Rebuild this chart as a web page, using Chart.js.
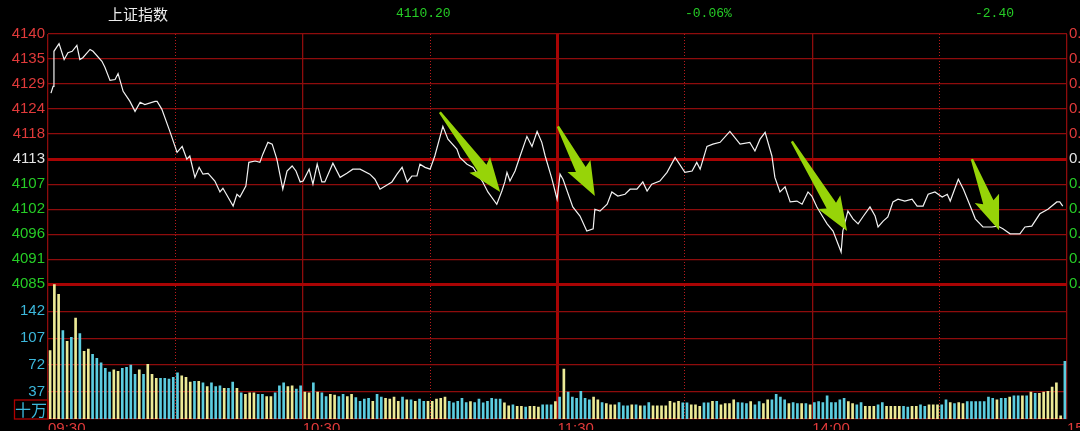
<!DOCTYPE html>
<html>
<head>
<meta charset="utf-8">
<script src="https://cdn.jsdelivr.net/npm/chart.js@4.4.1/dist/chart.umd.min.js"></script>
<style>
  html, body { margin: 0; padding: 0; background: #000; }
  canvas { display: block; }
</style>
</head>
<body>
<canvas id="chart" width="1080" height="431"></canvas>
<script>
// intraday chart: price line on top, per-minute volume bars below

const PREV_CLOSE = 4112.6;

// price line (minutes after 09:30, index value)
const priceTimes = [
  0.7, 1.2, 1.4, 2.6, 3.8, 4.7, 5.7, 6.8, 7.5, 8.2,
  9.9, 10.6, 12.7, 13.4, 14.6, 15.8, 16.5, 17.7, 19.3, 20.5,
  21.7, 22.8, 25.2, 25.7, 26.8, 28.7, 30.4, 31.6, 32.7, 33.4,
  34.6, 35.6, 36.5, 37.7, 39.3, 40.5, 41.2, 43.6, 44.5, 45.2,
  46.6, 47.3, 48.8, 49.9, 50.6, 51.8, 52.8, 53.9, 55.3, 56.3,
  57.5, 58.4, 59.4, 60.1, 61.5, 62.4, 63.4, 64.5, 65.2, 67.1,
  68.8, 70.4, 71.8, 73.5, 75.8, 77.0, 78.2, 81.0, 82.2, 83.4,
  84.6, 85.7, 86.9, 87.6, 88.8, 90.0, 91.1, 93.0, 94.2, 96.3,
  97.0, 98.7, 100.1, 102.4, 103.6, 105.7, 106.9, 107.6, 108.1, 108.8,
  110.0, 111.2, 112.8, 114.0, 115.2, 116.3, 117.1, 118.7, 119.9, 120.6,
  121.3, 123.6, 125.3, 126.9, 128.4, 128.8, 130.0, 131.7, 132.8, 134.2,
  135.9, 137.1, 138.7, 140.1, 141.1, 142.2, 144.1, 145.8, 147.7, 150.0,
  151.7, 152.8, 153.6, 155.2, 156.6, 158.3, 160.6, 163.0, 165.3, 166.5,
  167.7, 168.9, 170.5, 171.2, 172.4, 173.6, 174.8, 176.4, 177.6, 179.0,
  179.9, 181.1, 182.5, 183.5, 184.9, 186.8, 187.2, 188.4, 189.6, 190.8,
  191.9, 193.6, 194.8, 195.5, 196.7, 197.8, 199.0, 200.2, 201.8, 203.5,
  204.7, 206.1, 207.3, 208.9, 210.6, 211.8, 212.5, 214.4, 215.6, 217.3,
  218.4, 220.2, 222.3, 223.7, 224.9, 226.6, 228.9, 230.1, 231.7, 233.6,
  235.5, 237.6, 238.3, 239.0
];
const prices = [
  4127.1, 4128.6, 4136.3, 4138.0, 4134.5, 4136.0, 4136.3, 4137.6, 4134.5, 4134.9,
  4136.7, 4136.3, 4134.1, 4132.8, 4129.9, 4130.1, 4131.4, 4127.5, 4125.3, 4123.1,
  4125.1, 4124.6, 4125.3, 4125.3, 4123.6, 4118.7, 4114.1, 4115.4, 4112.6, 4113.3,
  4108.6, 4110.8, 4109.3, 4109.5, 4107.8, 4105.4, 4106.2, 4102.3, 4104.9, 4104.3,
  4106.7, 4111.9, 4112.2, 4111.9, 4113.7, 4116.3, 4115.9, 4112.6, 4106.0, 4110.0,
  4111.1, 4110.0, 4107.6, 4107.8, 4110.4, 4107.1, 4111.5, 4107.6, 4107.6, 4111.7,
  4108.6, 4109.5, 4110.4, 4110.4, 4109.3, 4108.2, 4106.0, 4107.6, 4109.3, 4110.8,
  4107.6, 4108.9, 4108.9, 4111.5, 4110.8, 4110.4, 4113.3, 4119.8, 4117.0, 4114.8,
  4113.0, 4111.5, 4110.8, 4107.6, 4105.4, 4102.7, 4105.6, 4107.6, 4109.7, 4107.8,
  4110.0, 4113.3, 4117.6, 4115.4, 4118.7, 4116.3, 4113.3, 4108.2, 4103.8, 4109.3,
  4108.2, 4102.1, 4100.1, 4096.8, 4097.3, 4101.6, 4101.2, 4102.7, 4105.4, 4104.5,
  4104.9, 4106.0, 4106.0, 4107.6, 4105.6, 4107.1, 4107.8, 4109.7, 4113.0, 4109.7,
  4110.0, 4111.9, 4110.4, 4115.4, 4115.9, 4116.3, 4118.7, 4115.9, 4116.3, 4114.4,
  4117.0, 4118.5, 4113.3, 4108.6, 4105.4, 4106.5, 4103.2, 4103.4, 4102.7, 4105.4,
  4104.5, 4102.1, 4099.9, 4098.4, 4096.8, 4092.2, 4096.8, 4101.2, 4099.5, 4098.4,
  4099.9, 4102.1, 4100.1, 4097.7, 4099.0, 4099.9, 4103.2, 4103.8, 4103.4, 4103.8,
  4102.3, 4102.3, 4104.9, 4105.4, 4104.3, 4104.9, 4103.4, 4108.2, 4106.0, 4102.1,
  4099.5, 4097.7, 4097.7, 4097.9, 4097.3, 4096.2, 4096.2, 4097.7, 4097.9, 4100.6,
  4101.6, 4103.2, 4103.2, 4102.3
];

// volume per minute (十万), one bar per minute
const volumes = [
  91, 177, 164, 117, 103, 108, 133, 113, 90, 93,
  86, 81, 75, 68, 63, 66, 64, 68, 69, 72,
  60, 66, 60, 73, 60, 55, 55, 55, 54, 56,
  62, 58, 56, 50, 51, 51, 49, 44, 49, 44,
  45, 42, 42, 50, 42, 36, 34, 36, 36, 34,
  34, 31, 31, 36, 45, 49, 44, 45, 41, 45,
  37, 36, 49, 37, 36, 31, 34, 33, 31, 34,
  31, 34, 30, 25,
  28, 29, 25, 34, 30.5, 29, 28, 30.5, 25, 30.5,
  27, 27, 25, 28, 25, 25, 25, 28, 29, 30.5,
  25, 23, 25, 29, 23.5, 24.5, 23.5, 28, 23, 25,
  29, 28, 28, 23, 19, 20.5, 18.5, 18.5, 17.5, 18.5,
  18.5, 17.5, 20.5, 20.5, 20.5, 24.5, 30.5, 67, 37, 30.5,
  29, 38, 29, 27, 30.5, 27, 23.5, 22, 20.5, 20.5,
  23.5, 19, 19, 20.5, 20.5, 19, 19, 23.5, 19, 19,
  19, 19, 25, 23, 25, 23, 23, 20.5, 20.5, 18.5,
  23, 23, 25, 25, 20.5,
  22, 22, 27, 23.5, 23, 22, 24.5, 20.5, 24.5, 22,
  27, 27, 34, 30.5, 27, 22, 23.5, 22, 22, 22,
  20.5, 23.5, 24.5, 23.5, 32, 23.5, 23.5, 27, 29, 24.5,
  22, 20.5, 23.5, 18.5, 18.5, 18.5, 20.5, 23.5, 18.5, 18.5,
  18.5, 18.5, 18.5, 17.5, 18.5, 18.5, 20.5, 18.5, 20.5, 20.5,
  20.5, 20.5, 27, 23.5, 22, 23.5, 22, 24.5, 24.5, 24.5,
  24.5, 24.5, 30.5, 29, 27, 29, 29, 30.5, 32, 32,
  32, 32, 37, 35.5, 35.5, 37, 38, 43.5, 49, 6, 77
];
// bar tone per minute: y = pale yellow, c = cyan
const volTone = (
  'yyycycycyy' + 'cccccyyccc' + 'cycyyycccc' + 'cyyycycycc' + 'cyccycyyyc' +
  'cyycccyycc' + 'yycyccyycc' + 'yycc' +
  'ccyccyyyyc' + 'ycyccyyyyy' + 'cccccycccc' + 'cccyycyycy' + 'yycccycycc' +
  'ccccyycyyy' + 'cccycyccyy' + 'yyyyyccyyy' + 'ccycy' +
  'yyycccyccy' + 'yccccyccyc' + 'yccccccccy' + 'yccyyyccyy' + 'yyccyyccyy' +
  'yccycyyccc' + 'ccccyccycc' + 'ycycyyyyyyc'
).split('');

// axes
const priceTicks = [4085.1, 4090.6, 4096.1, 4101.6, 4107.1, 4112.6, 4118.1, 4123.6, 4129.1, 4134.6, 4140.1];
const volTicks   = [37, 72, 107, 142];
const timeTicks  = [0, 60, 120, 180, 240];
const timeLabels = ['09:30', '10:30', '11:30', '14:00', '15:00'];
const halfHourTicks = [30, 90, 150, 210];

// header quote
const quoteName   = '上证指数';
const quotePrice  = '4110.20';
const quotePct    = '-0.06%';
const quoteChange = '-2.40';

// annotation arrows (tail -> tip, in minutes / index points)
const arrowTails = [[92.3, 4122.9], [120.1, 4119.8], [175.2, 4116.5], [217.6, 4112.6]];
const arrowTips  = [[106.5, 4105.4], [128.8, 4104.5], [188.2, 4096.8], [224.0, 4097.0]];

const PRICE_WEIGHT = 251;
const VOL_WEIGHT   = 135;
const PRICE_MIN = 4085.1, PRICE_MAX = 4140.1;
const VOL_MIN = 2, VOL_MAX = 177;

const GRID       = '#8e0c0c';
const GRID_THICK = '#a80404';
const DOTS       = '#b81c1c';
const TXT_RED    = '#e03a3a';
const TXT_GREEN  = '#26cc26';
const TXT_FLAT   = '#e4e4e4';
const TXT_CYAN   = '#3cb8dc';
const BAR_CYAN   = '#5ccde0';
const BAR_YELLOW = '#ecea96';
const ARROW      = '#97d408';
const FONT = '"Liberation Sans", Arial, sans-serif';

const priceColor = v =>
  v > PREV_CLOSE + 0.01 ? TXT_RED : (v < PREV_CLOSE - 0.01 ? TXT_GREEN : TXT_FLAT);

const overlay = {
  id: 'overlay',
  beforeDraw(chart) {
    const { ctx } = chart;
    ctx.save();
    ctx.fillStyle = '#000';
    ctx.fillRect(0, 0, chart.width, chart.height);
    ctx.restore();
  },
  afterDatasetsDraw(chart) {
    const { ctx, scales } = chart;
    ctx.save();
    ctx.fillStyle = ARROW;
    arrowTails.forEach((t, i) => {
      const x0 = scales.x.getPixelForValue(t[0]);
      const y0 = scales.y.getPixelForValue(t[1]);
      const x1 = scales.x.getPixelForValue(arrowTips[i][0]);
      const y1 = scales.y.getPixelForValue(arrowTips[i][1]);
      const L  = Math.hypot(x1 - x0, y1 - y0);
      const ux = (x1 - x0) / L, uy = (y1 - y0) / L;
      const pt = (u, v) => [x0 + ux * u - uy * v, y0 + uy * u + ux * v];
      const poly = [pt(0, -1.2), pt(L - 30, -5.5), pt(L - 34, -13), pt(L, 0),
                    pt(L - 34, 13), pt(L - 30, 5.5), pt(0, 1.2)];
      ctx.beginPath();
      poly.forEach((p, j) => j ? ctx.lineTo(p[0], p[1]) : ctx.moveTo(p[0], p[1]));
      ctx.closePath();
      ctx.fill();
    });
    ctx.restore();
  },
  afterDraw(chart) {
    const { ctx, chartArea } = chart;
    ctx.save();
    ctx.textBaseline = 'middle';
    ctx.textAlign = 'left';
    ctx.fillStyle = '#ececec';
    ctx.font = '15px "Noto Sans CJK SC", sans-serif';
    ctx.fillText(quoteName, 108, 14);
    ctx.fillStyle = TXT_GREEN;
    ctx.font = '13px "Liberation Mono", monospace';
    ctx.fillText(quotePrice, 396, 14);
    ctx.fillText(quotePct, 685, 14);
    ctx.fillText(quoteChange, 975, 14);

    // unit box under the volume axis
    ctx.strokeStyle = '#b00000';
    ctx.lineWidth = 1.3;
    ctx.strokeRect(14.5, chartArea.bottom - 19, chartArea.left - 14.5, 19);
    ctx.fillStyle = TXT_CYAN;
    ctx.font = '16px "Noto Sans CJK SC", sans-serif';
    ctx.textAlign = 'center';
    ctx.fillText('十万', (14 + chartArea.left) / 2, chartArea.bottom - 9.5);
    ctx.restore();
  }
};

new Chart(document.getElementById('chart'), {
  type: 'line',
  data: {
    datasets: [
      {
        type: 'line',
        data: priceTimes.map((t, i) => ({ x: t, y: prices[i] })),
        xAxisID: 'x',
        yAxisID: 'y',
        borderColor: '#f2f2f2',
        borderWidth: 1.2,
        pointRadius: 0,
        tension: 0,
        order: 1
      },
      {
        type: 'bar',
        data: volumes.map((v, i) => ({ x: i + 0.5, y: v })),
        xAxisID: 'x',
        yAxisID: 'yVol',
        backgroundColor: volTone.map(c => c === 'c' ? BAR_CYAN : BAR_YELLOW),
        barThickness: 2,
        grouped: false,
        order: 2
      }
    ]
  },
  options: {
    responsive: false,
    animation: false,
    events: [],
    layout: { padding: { top: 34, left: 0, right: 0, bottom: 0 } },
    plugins: { legend: { display: false }, tooltip: { enabled: false } },
    scales: {
      x: {
        type: 'linear', min: 0, max: 240, position: 'bottom', offset: false,
        afterBuildTicks: s => { s.ticks = timeTicks.map(v => ({ value: v })); },
        afterFit: s => { s.height = 11; s.paddingLeft = 0; s.paddingRight = 0; },
        ticks: {
          autoSkip: false, maxRotation: 0, align: 'start', padding: 1,
          color: TXT_RED, font: { size: 15, family: FONT },
          callback: v => timeLabels[timeTicks.indexOf(v)]
        },
        grid: {
          drawTicks: false, offset: false,
          color: c => c.tick && c.tick.value === 120 ? GRID_THICK : GRID,
          lineWidth: c => c.tick && c.tick.value === 120 ? 3 : 1.3
        },
        border: { display: true, color: GRID, width: 1.3 }
      },
      xHalf: {
        type: 'linear', min: 0, max: 240, position: 'bottom', offset: false,
        afterBuildTicks: s => { s.ticks = halfHourTicks.map(v => ({ value: v })); },
        afterFit: s => { s.height = 0; s.paddingLeft = 0; s.paddingRight = 0; },
        ticks: { display: false },
        grid: { drawTicks: false, offset: false, color: DOTS, lineWidth: 1 },
        border: { display: false, dash: [1, 2] }
      },
      y: {
        type: 'linear', position: 'left', stack: 'left', stackWeight: PRICE_WEIGHT, weight: 2,
        min: PRICE_MIN, max: PRICE_MAX,
        afterBuildTicks: s => { s.ticks = priceTicks.map(v => ({ value: v })); },
        afterFit: s => { s.width = 48; },
        ticks: {
          autoSkip: false, padding: 3, font: { size: 15, family: FONT },
          color: c => priceColor(c.tick.value),
          callback: v => v.toFixed(0)
        },
        grid: {
          drawTicks: false,
          color: c => c.tick && (c.tick.value === PREV_CLOSE || c.tick.value === PRICE_MIN) ? GRID_THICK : GRID,
          lineWidth: c => c.tick && (c.tick.value === PREV_CLOSE || c.tick.value === PRICE_MIN) ? 3 : 1.3
        },
        border: { display: false }
      },
      yVol: {
        type: 'linear', position: 'left', stack: 'left', stackWeight: VOL_WEIGHT, weight: 1,
        min: VOL_MIN, max: VOL_MAX,
        afterBuildTicks: s => { s.ticks = volTicks.map(v => ({ value: v })); },
        afterFit: s => { s.width = 48; },
        ticks: { autoSkip: false, padding: 3, font: { size: 15, family: FONT }, color: TXT_CYAN },
        grid: { drawTicks: false, color: GRID, lineWidth: 1.3 },
        border: { display: false }
      },
      yPct: {
        type: 'linear', position: 'right',
        min: PRICE_MIN - (PRICE_MAX - PRICE_MIN) * VOL_WEIGHT / PRICE_WEIGHT,
        max: PRICE_MAX,
        afterBuildTicks: s => { s.ticks = priceTicks.map(v => ({ value: v })); },
        afterFit: s => { s.width = 13; },
        ticks: {
          autoSkip: false, padding: 2, font: { size: 15, family: FONT },
          color: c => priceColor(c.tick.value),
          callback: v => (Math.abs(v - PREV_CLOSE) / PREV_CLOSE * 100).toFixed(2) + '%'
        },
        grid: { display: false, drawTicks: false },
        border: { display: false }
      }
    }
  },
  plugins: [overlay]
});
</script>
</body>
</html>
